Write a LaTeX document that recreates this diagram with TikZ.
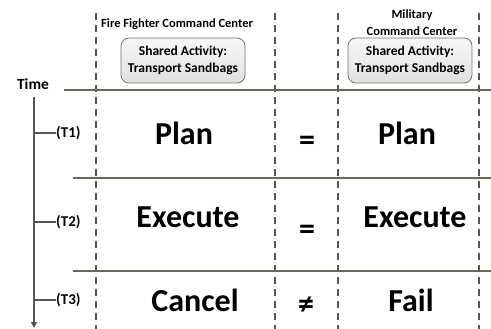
\documentclass[tikz,border=0pt]{standalone}
\usepackage{fontspec}
\setmainfont{Carlito}
\usetikzlibrary{arrows.meta}
\definecolor{hcol}{RGB}{105,105,88}
\definecolor{dcol}{RGB}{85,85,85}
\begin{document}
\begin{tikzpicture}[x=1pt,y=-1pt,
  dline/.style={draw=dcol, line width=1.1pt, dash pattern=on 7pt off 5pt},
  hline/.style={draw=hcol, line width=2.4pt},
  tline/.style={draw=dcol, line width=1.6pt},
  big/.style={font=\bfseries\fontsize{32}{36}\selectfont, anchor=base, inner sep=0pt},
  hdr/.style={font=\bfseries\fontsize{12.5}{17}\selectfont, inner sep=0pt, align=center},
  tlab/.style={font=\bfseries\fontsize{15}{18}\selectfont, inner sep=0pt, anchor=west},
  actbox/.style={draw=black!55, line width=0.8pt, rounded corners=8pt, top color=gray!6, bottom color=gray!24,
    minimum width=124pt, minimum height=45pt, align=center, inner sep=0pt,
    font=\bfseries\fontsize{13.5}{17}\selectfont}]
\useasboundingbox (0,0) rectangle (491,329);
% dashed column separators
\foreach \x/\n in {96/a,275/b,338/c,479/d}{
  \coordinate (top\n) at (\x,13);
  \coordinate (bot\n) at (\x,329);
  \draw[dline] (top\n) -- (bot\n);
}
% headers
\node[hdr, anchor=base west] (ffcc) at (101,28) {Fire Fighter Command Center};
\node[hdr, anchor=north] (mcc) at (412,9.5) {Military\\Command Center};
\node[actbox] (boxL) at (183,60.5) {Shared Activity:\\Transport Sandbags};
\node[actbox] (boxR) at (410,60.5) {Shared Activity:\\Transport Sandbags};
% time label
\node[font=\bfseries\fontsize{15.5}{18}\selectfont, anchor=base, inner sep=0pt] (time) at (33,90) {Time};
% horizontal separators
\coordinate (h1a) at (64,90);  \coordinate (h1b) at (491,90);
\coordinate (h2a) at (73,178); \coordinate (h2b) at (491,178);
\coordinate (h3a) at (73,271); \coordinate (h3b) at (491,271);
\draw[hline] (h1a) -- (h1b);
\draw[hline] (h2a) -- (h2b);
\draw[hline] (h3a) -- (h3b);
% timeline
\coordinate (tl0) at (34,97);
\coordinate (tl1) at (34,328);
\draw[tline, -{Triangle[length=6pt,width=6pt]}] (tl0) -- (tl1);
\foreach \y/\t in {133/1,222/2,300/3}{
  \coordinate (tk\t) at (34,\y);
  \node[tlab] (lab\t) at (56,\y) {(T\t)};
  \draw[tline] (tk\t) -- (lab\t.west);
}
% contents
\node[big] (plan1) at (184,145) {Plan};
\node[big] (eq1) at (307,151) {=};
\node[big] (plan2) at (407,145) {Plan};
\node[big] (exe1) at (188,228) {Execute};
\node[big] (eq2) at (307,240) {=};
\node[big] (exe2) at (415,228) {Execute};
\node[big] (can) at (195,312) {Cancel};
\node[big] (neq) at (306,314) {≠};
\node[big] (fail) at (411,312) {Fail};
\end{tikzpicture}
\end{document}
